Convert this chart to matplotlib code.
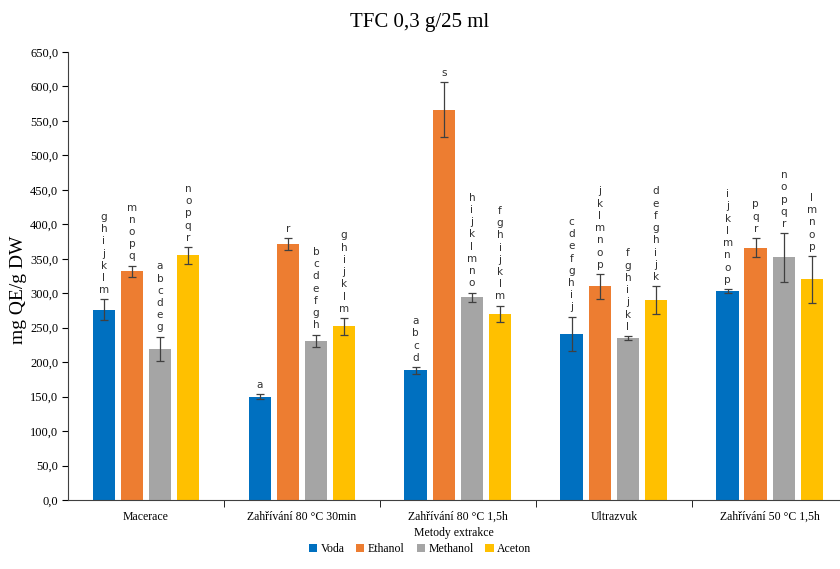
import matplotlib.pyplot as plt
import numpy as np

categories = ["Macerace", "Zahřívání 80 °C 30min", "Zahřívání 80 °C 1,5h",
              "Ultrazvuk", "Zahřívání 50 °C 1,5h"]
solvents = ["Voda", "Ethanol", "Methanol", "Aceton"]
colors = ["#0070C0", "#ED7D31", "#A5A5A5", "#FFC000"]

voda = [276, 150, 188, 241, 303]
ethanol = [332, 371, 566, 310, 366]
methanol = [219, 231, 294, 235, 352]
aceton = [355, 252, 270, 290, 320]

voda_err = [15, 4, 5, 25, 3]
ethanol_err = [8, 9, 40, 18, 14]
methanol_err = [18, 9, 7, 3, 35]
aceton_err = [12, 12, 12, 20, 34]

voda_lab = ["ghijklm", "a", "abcd", "cdefghij", "ijklmnop"]
ethanol_lab = ["mnopq", "r", "s", "jklmnop", "pqr"]
methanol_lab = ["abcdeg", "bcdefgh", "hijklmno", "fghijkl", "nopqr"]
aceton_lab = ["nopqr", "ghijklm", "fghijklm", "defghijk", "lmnop"]

values = [voda, ethanol, methanol, aceton]
errors = [voda_err, ethanol_err, methanol_err, aceton_err]
letters = [voda_lab, ethanol_lab, methanol_lab, aceton_lab]

serif = "Liberation Serif"

fig = plt.figure(figsize=(8.4, 5.69), dpi=100)
ax = fig.add_axes([68 / 840, 69 / 569, 772 / 840, 448 / 569])

x = np.arange(len(categories))
pitch = 0.18
width = 0.145

for i, name in enumerate(solvents):
    pos = x + (i - 1.5) * pitch
    ax.bar(pos, values[i], width=width, color=colors[i], label=name,
           yerr=errors[i], error_kw=dict(ecolor="#404040", elinewidth=0.9,
                                         capsize=3, capthick=0.9))
    # significance letters, one per line above the error bar
    for p, v, e, lab in zip(pos, values[i], errors[i], letters[i]):
        ax.annotate("\n".join(lab), (p, v + e), xytext=(0, 3),
                    textcoords="offset points", ha="center", va="bottom",
                    fontsize=7.5, family="DejaVu Sans", linespacing=1.28,
                    color="#303030")

ax.set_xlim(-0.5, 4.45)
ax.set_ylim(0, 650)
ax.set_yticks(np.arange(0, 651, 50))
ax.set_yticklabels([f"{v:.1f}".replace(".", ",") for v in np.arange(0, 651, 50)],
                   family=serif, fontsize=9)
ax.set_xticks(x)
ax.set_xticklabels(categories, family=serif, fontsize=8.5)
ax.tick_params(axis="x", length=0, pad=8)
ax.set_xticks(np.arange(0.5, 4.5, 1), minor=True)
ax.tick_params(axis="x", which="minor", length=5, direction="out")
ax.tick_params(axis="y", length=4, direction="out", pad=3)

for s in ["top", "right"]:
    ax.spines[s].set_visible(False)
ax.spines["left"].set_color("#404040")
ax.spines["bottom"].set_color("#404040")

ax.set_xlabel("Metody extrakce", family=serif, fontsize=8.5, labelpad=3)
ax.set_ylabel("mg QE/g DW", family=serif, fontsize=14)
ax.yaxis.set_label_coords(-0.053, 0.47)
fig.text(0.5, 1 - 22 / 569, "TFC 0,3 g/25 ml", ha="center", va="center",
         family=serif, fontsize=15)

fig.legend(loc="center", bbox_to_anchor=(0.5, 1 - 549 / 569), ncol=4,
           frameon=False, prop={"family": serif, "size": 8.5},
           handlelength=0.7, handleheight=0.7, handletextpad=0.3,
           columnspacing=1.0)

fig.savefig("out.png", dpi=100)
